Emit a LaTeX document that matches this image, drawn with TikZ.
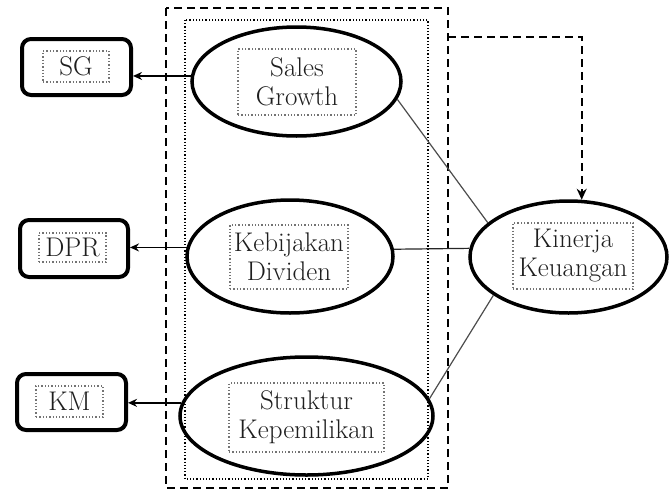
\documentclass[tikz,border=0pt]{standalone}
\usetikzlibrary{shapes.geometric,arrows.meta}
\definecolor{txt}{HTML}{1E1E1E}
\tikzset{
  ell/.style={ellipse, draw=black, line width=3.5pt, inner sep=0pt},
  tbox/.style={draw=black!55, dotted, line width=1.3pt, inner sep=0pt, align=center,
    text=txt, font=\fontsize{27}{29}\selectfont},
  obox/.style={draw=black, line width=4pt, rounded corners=9pt, inner sep=0pt},
  arr/.style={line width=1.6pt, -{Stealth[length=9pt,width=8pt]}},
  link/.style={line width=1.2pt, draw=black!70},
  outerdash/.style={line width=2.4pt, dash pattern=on 8pt off 5pt},
  innerdot/.style={line width=1.2pt, dotted},
  dasharr/.style={line width=2.2pt, dash pattern=on 8pt off 5pt, -{Stealth[length=11pt,width=10pt]}}
}
\begin{document}
\begin{tikzpicture}[x=1pt,y=-1pt]
\useasboundingbox (0,0) rectangle (670,493);
% group frames
\draw[outerdash] (166,8) rectangle (448,488);
\draw[innerdot] (185,20) rectangle (428,479);
% latent ellipses
\node[ell, minimum width=209pt, minimum height=109pt] (sg) at (296.5,81.5) {};
\node[ell, minimum width=206pt, minimum height=113pt] (kd) at (290,256.5) {};
\node[ell, minimum width=253pt, minimum height=118pt] (st) at (306.5,416) {};
\node[ell, minimum width=197pt, minimum height=112pt] (kin) at (568.5,257) {};
% text boxes in ellipses
\node[tbox, minimum width=118pt, minimum height=66pt] (sgt) at (297,82) {Sales\\Growth};
\node[tbox, minimum width=118pt, minimum height=64pt] (kdt) at (289,257) {Kebijakan\\Dividen};
\node[tbox, minimum width=155pt, minimum height=69pt] (stt) at (306.5,417.5) {Struktur\\Kepemilikan};
\node[tbox, minimum width=120pt, minimum height=66pt] (kint) at (573,256) {Kinerja\\Keuangan};
% indicator boxes
\node[obox, minimum width=109pt, minimum height=56pt] (sgb) at (76.5,67) {};
\node[obox, minimum width=108pt, minimum height=57pt] (dprb) at (74,248.5) {};
\node[obox, minimum width=109pt, minimum height=56pt] (kmb) at (71.5,402) {};
\node[tbox, minimum width=66pt, minimum height=31pt] (sgi) at (76,66.5) {SG};
\node[tbox, minimum width=67pt, minimum height=29pt] (dpri) at (72.5,247.5) {DPR};
\node[tbox, minimum width=67pt, minimum height=31pt] (kmi) at (69.5,401.5) {KM};
% arrows to indicators
\draw[arr] (sg.177.5) -- (sg.177.5 -| sgb.east);
\draw[arr] (kd.175.4) -- (kd.175.4 -| dprb.east);
\draw[arr] (st.174.2) -- (st.174.2 -| kmb.east);
% links to Kinerja
\draw[link] (sg.-10) -- (kin.157);
\draw[link, draw=black!85] (kd.4) -- (kin.175.5);
\draw[link] (st.8.7) -- (kin.-153);
% dashed arrow
\coordinate (dstart) at (448,37);
\draw[dasharr] (dstart) -| (kin.77);
\end{tikzpicture}
\end{document}
